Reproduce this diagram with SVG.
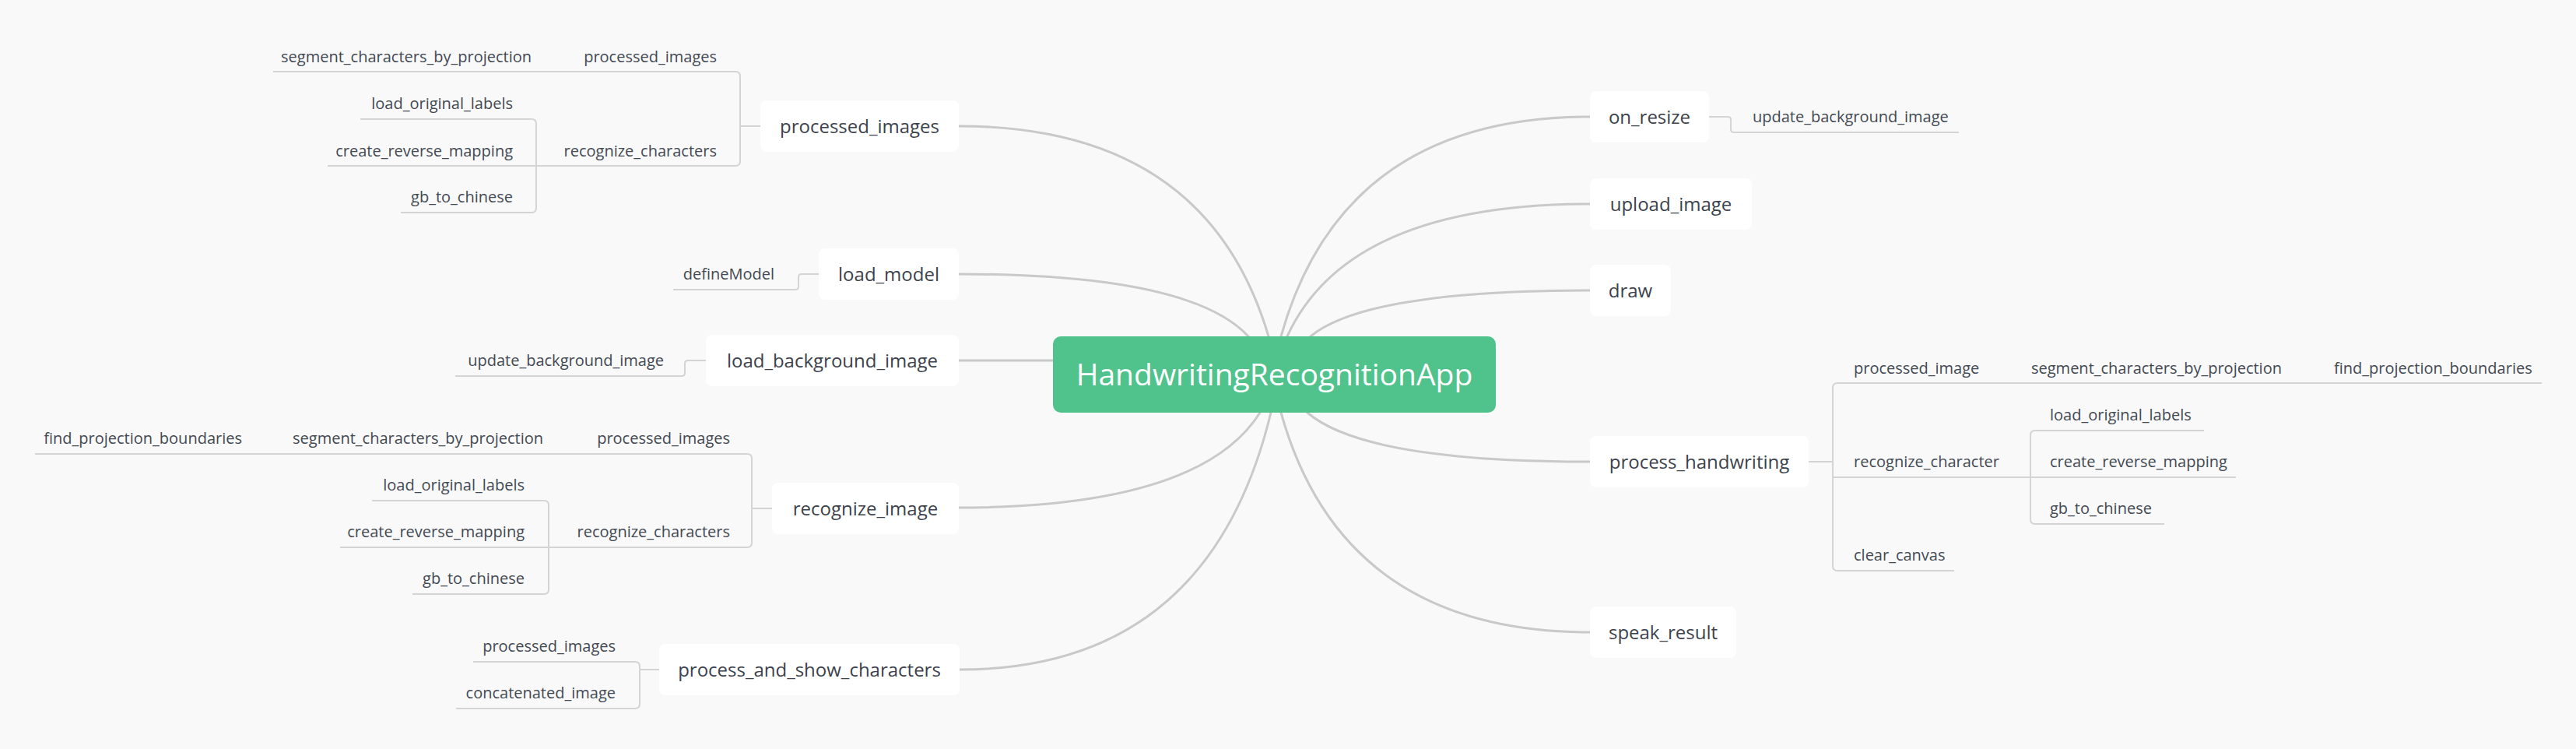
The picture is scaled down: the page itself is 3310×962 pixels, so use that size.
<svg xmlns="http://www.w3.org/2000/svg" width="3310" height="962" viewBox="0 0 3310 962">
<style>
.bg{fill:#f9f9f9}
.main{fill:none;stroke:#c9c9c9;stroke-width:3;stroke-linecap:round}
.sub{fill:none;stroke:#d4d4d4;stroke-width:2}
.box{fill:#ffffff}
.root{fill:#50c28c}
.t1{font-family:"Open Sans","Noto Sans","Liberation Sans",sans-serif;font-size:24px;fill:#3c424c;text-anchor:middle}
.t0{font-family:"Open Sans","Noto Sans","Liberation Sans",sans-serif;font-size:39px;fill:#ffffff;text-anchor:middle}
.tl{font-family:"Open Sans","Noto Sans","Liberation Sans",sans-serif;font-size:20px;fill:#434953;text-anchor:end}
.tr{font-family:"Open Sans","Noto Sans","Liberation Sans",sans-serif;font-size:20px;fill:#434953;text-anchor:start}
</style>
<rect class="bg" x="0" y="0" width="3310" height="962"/>
<g id="connectors">
  <path class="main" d="M1232,162 Q1550,162 1630,432"/>
  <path class="main" d="M1232,352 Q1530,352 1604,432"/>
  <path class="main" d="M1232,463 H1353"/>
  <path class="main" d="M1232,652 Q1542,652 1619,530"/>
  <path class="main" d="M1233,860 Q1553,860 1633,530"/>
  <path class="main" d="M2043,150 Q1725,150 1646,432"/>
  <path class="main" d="M2043,262 Q1732,262 1654,432"/>
  <path class="main" d="M2043,373 Q1756,373 1684,432"/>
  <path class="main" d="M2043,593 Q1753,593 1680,530"/>
  <path class="main" d="M2043,812 Q1725,812 1646,530"/>
  <path class="sub" d="M977,162 H951"/>
  <path class="sub" d="M351,92 H945 Q951,92 951,98 V207 Q951,213 945,213 H421"/>
  <path class="sub" d="M463,153 H683 Q689,153 689,159 V267 Q689,273 683,273 H515"/>
  <path class="sub" d="M1052,352 H1030 Q1026,352 1026,356 V368 Q1026,372 1022,372 H865"/>
  <path class="sub" d="M907,463 H884 Q880,463 880,467 V479 Q880,483 876,483 H585"/>
  <path class="sub" d="M992,653 H966"/>
  <path class="sub" d="M45,583 H960 Q966,583 966,589 V697 Q966,703 960,703 H437"/>
  <path class="sub" d="M478,643 H699 Q705,643 705,649 V757 Q705,763 699,763 H530"/>
  <path class="sub" d="M847,860 H822"/>
  <path class="sub" d="M608,850 H816 Q822,850 822,856 V904 Q822,910 816,910 H586"/>
  <path class="sub" d="M2196,150 H2220 Q2224,150 2224,154 V166 Q2224,170 2228,170 H2517"/>
  <path class="sub" d="M2324,593 H2355"/>
  <path class="sub" d="M3266,492 H2361 Q2355,492 2355,498 V727 Q2355,733 2361,733 H2511"/>
  <path class="sub" d="M2355,613 H2873"/>
  <path class="sub" d="M2832,553 H2615 Q2609,553 2609,559 V667 Q2609,673 2615,673 H2781"/>
</g>
<g id="n-root">
  <rect class="root" x="1353" y="432" width="569" height="98" rx="10"/>
  <text class="t0" x="1637.5" y="495">HandwritingRecognitionApp</text>
</g>
<g id="n-processed-images">
  <rect class="box" x="977" y="129" width="255" height="66" rx="8"/>
  <text class="t1" x="1104.5" y="171">processed_images</text>
</g>
<g id="n-pi-processed-images"><text class="tl" x="921" y="80">processed_images</text></g>
<g id="n-pi-segment"><text class="tl" x="683" y="80">segment_characters_by_projection</text></g>
<g id="n-pi-recognize-characters"><text class="tl" x="921" y="201">recognize_characters</text></g>
<g id="n-pi-load-original-labels"><text class="tl" x="659" y="140">load_original_labels</text></g>
<g id="n-pi-create-reverse-mapping"><text class="tl" x="659" y="201">create_reverse_mapping</text></g>
<g id="n-pi-gb-to-chinese"><text class="tl" x="659" y="260">gb_to_chinese</text></g>
<g id="n-load-model">
  <rect class="box" x="1052" y="319" width="180" height="66" rx="8"/>
  <text class="t1" x="1142" y="361">load_model</text>
</g>
<g id="n-define-model"><text class="tl" x="995" y="359">defineModel</text></g>
<g id="n-load-background-image">
  <rect class="box" x="907" y="430" width="325" height="66" rx="8"/>
  <text class="t1" x="1069.5" y="472">load_background_image</text>
</g>
<g id="n-lbi-update-background-image"><text class="tl" x="853" y="470">update_background_image</text></g>
<g id="n-recognize-image">
  <rect class="box" x="992" y="620" width="240" height="66" rx="8"/>
  <text class="t1" x="1112" y="662">recognize_image</text>
</g>
<g id="n-ri-processed-images"><text class="tl" x="938" y="570">processed_images</text></g>
<g id="n-ri-segment"><text class="tl" x="698" y="570">segment_characters_by_projection</text></g>
<g id="n-ri-find-boundaries"><text class="tl" x="311" y="570">find_projection_boundaries</text></g>
<g id="n-ri-recognize-characters"><text class="tl" x="938" y="690">recognize_characters</text></g>
<g id="n-ri-load-original-labels"><text class="tl" x="674" y="630">load_original_labels</text></g>
<g id="n-ri-create-reverse-mapping"><text class="tl" x="674" y="690">create_reverse_mapping</text></g>
<g id="n-ri-gb-to-chinese"><text class="tl" x="674" y="750">gb_to_chinese</text></g>
<g id="n-process-and-show-characters">
  <rect class="box" x="847" y="827" width="386" height="66" rx="8"/>
  <text class="t1" x="1040" y="869">process_and_show_characters</text>
</g>
<g id="n-ps-processed-images"><text class="tl" x="791" y="837">processed_images</text></g>
<g id="n-ps-concatenated-image"><text class="tl" x="791" y="897">concatenated_image</text></g>
<g id="n-on-resize">
  <rect class="box" x="2043" y="117" width="153" height="66" rx="8"/>
  <text class="t1" x="2119.5" y="159">on_resize</text>
</g>
<g id="n-or-update-background-image"><text class="tr" x="2252" y="157">update_background_image</text></g>
<g id="n-upload-image">
  <rect class="box" x="2043" y="229" width="208" height="66" rx="8"/>
  <text class="t1" x="2147" y="271">upload_image</text>
</g>
<g id="n-draw">
  <rect class="box" x="2043" y="340" width="104" height="66" rx="8"/>
  <text class="t1" x="2095" y="382">draw</text>
</g>
<g id="n-process-handwriting">
  <rect class="box" x="2043" y="560" width="281" height="66" rx="8"/>
  <text class="t1" x="2183.5" y="602">process_handwriting</text>
</g>
<g id="n-ph-processed-image"><text class="tr" x="2382" y="480">processed_image</text></g>
<g id="n-ph-segment"><text class="tr" x="2610" y="480">segment_characters_by_projection</text></g>
<g id="n-ph-find-boundaries"><text class="tr" x="2999" y="480">find_projection_boundaries</text></g>
<g id="n-ph-recognize-character"><text class="tr" x="2382" y="600">recognize_character</text></g>
<g id="n-ph-load-original-labels"><text class="tr" x="2634" y="540">load_original_labels</text></g>
<g id="n-ph-create-reverse-mapping"><text class="tr" x="2634" y="600">create_reverse_mapping</text></g>
<g id="n-ph-gb-to-chinese"><text class="tr" x="2634" y="660">gb_to_chinese</text></g>
<g id="n-ph-clear-canvas"><text class="tr" x="2382" y="720">clear_canvas</text></g>
<g id="n-speak-result">
  <rect class="box" x="2043" y="779" width="188" height="66" rx="8"/>
  <text class="t1" x="2137" y="821">speak_result</text>
</g>
</svg>
